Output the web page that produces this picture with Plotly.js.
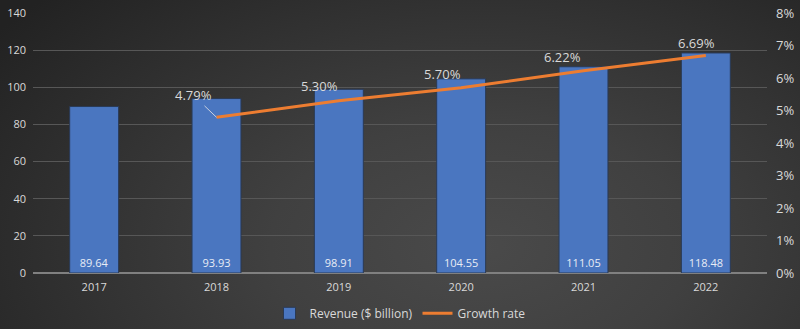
<!DOCTYPE html>
<html>
<head>
<meta charset="utf-8">
<script src="https://cdn.plot.ly/plotly-3.0.1.min.js"></script>
<style>
html,body{margin:0;padding:0;}
body{width:800px;height:329px;overflow:hidden;
background: radial-gradient(ellipse 75% 110% at 60% 75%, #4a4a4a 0%, #404040 35%, #303030 70%, #222 100%);}
#chart{width:800px;height:329px;}
</style>
</head>
<body>
<div id="chart"></div>
<script>
const years = ['2017','2018','2019','2020','2021','2022'];
const revenue = [89.64, 93.93, 98.91, 104.55, 111.05, 118.48];
const growthYears = ['2018','2019','2020','2021','2022'];
const growthRate = [4.79, 5.30, 5.70, 6.22, 6.69];
const leftTicks = [0,20,40,60,80,100,120,140];
const rightTicks = [0,1,2,3,4,5,6,7,8];

const labelOffsets = [[-23,-22,true],[-19,-15,false],[-19,-14,false],[-21,-14,false],[-9,-13,false]];

const txt = '#d9d9d9';
const font = "'Open Sans', 'Noto Sans', sans-serif";

const bars = {
  type:'bar', x: years, y: revenue, name:'Revenue ($ billion)',
  width: 0.4,
  marker:{color:'#4a76c0', line:{color:'#2a3a55', width:1}},
  text: revenue.map(v=>v.toFixed(2)), textposition:'inside', insidetextanchor:'start',
  textfont:{color:'#e8ecf5', size:11, family:font},
  hoverinfo:'skip'
};
const line = {
  type:'scatter', mode:'lines', x: growthYears, y: growthRate, yaxis:'y2',
  name:'Growth rate', line:{color:'#ed7d31', width:3}
};

const annotations = growthRate.map((v,i)=>({
  x: years.indexOf(growthYears[i]), y: v, xref:'x', yref:'y2',
  text: v.toFixed(2)+'%', showarrow: true,
  arrowhead: 0, arrowwidth: 1, arrowcolor: labelOffsets[i][2] ? '#c8d0e0' : 'rgba(0,0,0,0)',
  ax: labelOffsets[i][0], ay: labelOffsets[i][1],
  font:{color:txt, size:13, family:font}
}));

const layout = {
  width:800, height:329,
  margin:{l:33, r:33, t:13, b:56, autoexpand:false},
  paper_bgcolor:'rgba(0,0,0,0)', plot_bgcolor:'rgba(0,0,0,0)',
  font:{family:font, color:txt, size:11},
  xaxis:{type:'category', range:[-0.5,5.5], showgrid:false, showline:false, zeroline:false,
    ticks:'', tickfont:{size:11, color:txt}, automargin:false, ticklabelstandoff:6},
  yaxis:{range:[0,140], tickvals:leftTicks, showgrid:true, gridcolor:'#575757', gridwidth:1,
    zeroline:true, zerolinecolor:'#808080', zerolinewidth:2, showline:false, ticks:'',
    tickfont:{size:11, color:txt}, automargin:false, ticklabelstandoff:6},
  yaxis2:{range:[0,8], tickvals:rightTicks, ticktext:rightTicks.map(t=>t+'%'), overlaying:'y', side:'right',
    showgrid:false, zeroline:false, showline:false, tickfont:{size:13, color:txt}, automargin:false,
    ticklabelstandoff:8},
  showlegend:true,
  legend:{orientation:'h', x:0.5, xanchor:'center', y:-0.155, yanchor:'middle',
    font:{size:12, color:txt}, bgcolor:'rgba(0,0,0,0)', traceorder:'normal'},
  annotations: annotations
};

Plotly.newPlot('chart', [bars, line], layout, {displayModeBar:false, staticPlot:true});
</script>
</body>
</html>
